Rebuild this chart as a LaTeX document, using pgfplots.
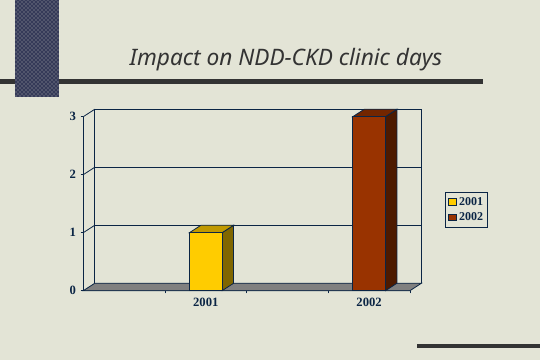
\documentclass[border=0pt]{standalone}
\usepackage{fontspec}
\setmainfont{Liberation Serif}
\newfontfamily\titlefont{Noto Sans}
\usepackage{pgfplots}
\pgfplotsset{compat=1.18}
\usetikzlibrary{patterns}
\definecolor{bg}{HTML}{E3E4D6}
\definecolor{navy}{HTML}{0B2545}
\definecolor{darkline}{HTML}{333333}
\definecolor{deco}{HTML}{353A58}
\definecolor{yf}{HTML}{FFCC00}
\definecolor{ys}{HTML}{806600}
\definecolor{yt}{HTML}{C09900}
\definecolor{bf}{HTML}{993300}
\definecolor{bs}{HTML}{4D1A00}
\definecolor{bt}{HTML}{732600}
\definecolor{floorc}{HTML}{808080}
\begin{document}
\begin{tikzpicture}
\begin{scope}[x=0.75pt,y=0.75pt]
\fill[bg] (0,0) rectangle (540,360);
\useasboundingbox (0,0) rectangle (540,360);
\fill[darkline] (0,276.3) rectangle (483,281);
\fill[deco] (14.7,263.3) rectangle (59,360);
\fill[pattern=crosshatch dots, pattern color=gray!60] (14.7,263.3) rectangle (59,360);
\fill[darkline] (417,12) rectangle (540,16);
\node[font=\titlefont\itshape\fontsize{17}{20}\selectfont, text=darkline, anchor=base] at (286,294) {Impact on NDD-CKD clinic days};
\end{scope}
\begin{axis}[
  at={(62.5pt,52pt)}, anchor=south west, scale only axis,
  width=245pt, height=130.5pt,
  xmin=0, xmax=4, ymin=0, ymax=3, clip=false,
  axis lines=left, axis line style={navy,-,line width=0.6pt},
  tick style={navy, line width=0.6pt}, tick align=outside, major tick length=2pt,
  xtick={1,2,3,4}, xticklabels={},
  extra x ticks={1.5,3.5}, extra x tick labels={2001,2002},
  extra x tick style={major tick length=0pt, xticklabel style={yshift=-2.2pt}},
  ytick={0,1,2,3},
  /pgf/number format/assume math mode=true,
  ticklabel style={font=\bfseries\fontsize{9.5}{10}\selectfont, text=navy},
  legend style={at={(1.108,0.465)}, anchor=west, draw=navy, fill=bg,
    font=\bfseries\fontsize{9}{10}\selectfont, text=navy, inner sep=1.5pt,
    row sep=0pt, cells={anchor=west}},
  sq/.style={legend image code/.code={\draw[##1] (0pt,-2.5pt) rectangle (6pt,2.5pt);}},
]
% floor
\addplot[forget plot, fill=floorc, draw=navy, line width=0.6pt] coordinates {(0,0) (4,0) (4.14,0.128) (0.14,0.128)} -- cycle;
% back wall
\addplot[forget plot, navy, line width=0.6pt] coordinates {(0.14,0.128) (0.14,3.128) (4.14,3.128) (4.14,0.128)};
\addplot[forget plot, navy, line width=0.6pt] coordinates {(0.14,1.128) (4.14,1.128)};
\addplot[forget plot, navy, line width=0.6pt] coordinates {(0.14,2.128) (4.14,2.128)};
\addplot[forget plot, navy, line width=0.6pt] coordinates {(0,1) (0.14,1.128)};
\addplot[forget plot, navy, line width=0.6pt] coordinates {(0,2) (0.14,2.128)};
\addplot[forget plot, navy, line width=0.6pt] coordinates {(0,3) (0.14,3.128)};
% bar 2001 (value 1)
\addplot[forget plot, fill=ys, draw=navy, line width=0.6pt] coordinates {(1.7,0) (1.84,0.128) (1.84,1.128) (1.7,1)} -- cycle;
\addplot[forget plot, fill=yt, draw=navy, line width=0.6pt] coordinates {(1.3,1) (1.44,1.128) (1.84,1.128) (1.7,1)} -- cycle;
\addplot[ybar, bar width=0.4, bar shift=0pt, fill=yf, draw=navy, line width=0.6pt, sq] coordinates {(1.5,1)};
\addlegendentry{2001}
% bar 2002 (value 3)
\addplot[forget plot, fill=bs, draw=navy, line width=0.6pt] coordinates {(3.7,0) (3.84,0.128) (3.84,3.128) (3.7,3)} -- cycle;
\addplot[forget plot, fill=bt, draw=navy, line width=0.6pt] coordinates {(3.3,3) (3.44,3.128) (3.84,3.128) (3.7,3)} -- cycle;
\addplot[ybar, bar width=0.4, bar shift=0pt, fill=bf, draw=navy, line width=0.6pt, sq] coordinates {(3.5,3)};
\addlegendentry{2002}
\end{axis}
\end{tikzpicture}
\end{document}
